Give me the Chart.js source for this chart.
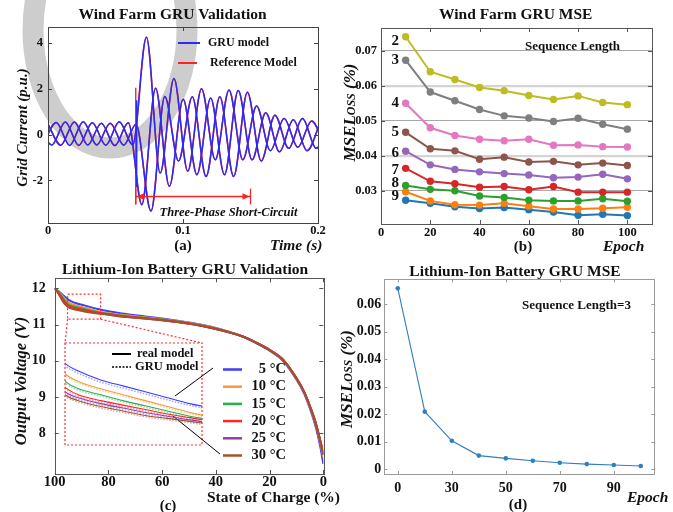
<!DOCTYPE html>
<html>
<head>
<meta charset="utf-8">
<script src="https://cdn.jsdelivr.net/npm/chart.js@4.4.0/dist/chart.umd.min.js"></script>
<style>
  html, body { margin: 0; padding: 0; background: #fff; }
  #wrap { position: relative; width: 673px; height: 512px; overflow: hidden; }
  canvas { position: absolute; left: 0; top: 0; width: 673px; height: 512px; }
</style>
</head>
<body>
<div id="wrap">
  <canvas id="ca" width="673" height="512"></canvas>
  <canvas id="cb" width="673" height="512"></canvas>
  <canvas id="cc" width="673" height="512"></canvas>
  <canvas id="cd" width="673" height="512"></canvas>
  <canvas id="ce" width="673" height="512"></canvas>
</div>
<script>
// ---- (a) wind farm grid current: peaks / troughs of each phase (s, p.u.)
const tA = [-0.0072, 0.0028, 0.0128, 0.0228, 0.0328, 0.0428, 0.0528, 0.0628, 0.0729, 0.0831, 0.0933, 0.1035, 0.1137, 0.1239, 0.1341, 0.1443, 0.1545, 0.1647, 0.1749, 0.1851, 0.1953, 0.2055];
const vA = [0.50, -0.45, 0.55, -0.47, 0.52, -0.46, 0.56, -0.45, 4.25, -1.68, 2.45, -1.60, 2.00, -1.10, 1.95, -1.10, 1.25, -0.70, 0.70, -0.55, 0.60, -0.60];
const tB = [-0.0005, 0.0095, 0.0195, 0.0295, 0.0395, 0.0495, 0.0595, 0.0695, 0.0797, 0.0899, 0.1001, 0.1103, 0.1205, 0.1307, 0.1409, 0.1511, 0.1613, 0.1715, 0.1817, 0.1919, 0.2021];
const vB = [0.52, -0.46, 0.55, -0.45, 0.50, -0.48, 0.52, -3.06, 2.03, -2.26, 1.55, -1.75, 1.60, -1.75, 1.93, -1.10, 0.95, -0.75, 0.65, -0.70, 0.60];
const tC = [-0.0039, 0.0061, 0.0161, 0.0261, 0.0361, 0.0461, 0.0561, 0.0652, 0.0763, 0.0865, 0.0967, 0.1069, 0.1171, 0.1273, 0.1375, 0.1477, 0.1579, 0.1681, 0.1783, 0.1885, 0.1987, 0.2089];
const vC = [-0.45, 0.53, -0.47, 0.56, -0.45, 0.50, -0.46, 0.45, -3.34, 1.66, -1.15, 1.65, -1.83, 1.65, -1.83, 1.85, -1.15, 0.85, -0.60, 0.70, -0.60, 0.60];
const gruSpikeT = [0.0657, 0.0657], gruSpikeV = [1.5, -2.3];
const refSpikeT = [0.0650, 0.0650], refSpikeV = [2.05, -3.05];
const faultSpan = [0.065, 0.150], faultArrowY = -2.7, faultBar = [-2.36, -3.05];
const ticksAx = [0, 0.1, 0.2], ticksAy = [-2, 0, 2, 4];

// ---- (b) wind farm MSE by sequence length
const epochB = [10, 20, 30, 40, 50, 60, 70, 80, 90, 100];
const mse2 = [0.0740, 0.0640, 0.0618, 0.0595, 0.0586, 0.0572, 0.0561, 0.0571, 0.0552, 0.0546];
const mse3 = [0.0673, 0.0582, 0.0557, 0.0532, 0.0514, 0.0508, 0.0498, 0.0507, 0.0490, 0.0476];
const mse4 = [0.0550, 0.0480, 0.0458, 0.0447, 0.0443, 0.0447, 0.0430, 0.0431, 0.0426, 0.0425];
const mse5 = [0.0467, 0.0420, 0.0414, 0.0390, 0.0396, 0.0382, 0.0384, 0.0374, 0.0379, 0.0372];
const mse6 = [0.0413, 0.0374, 0.0361, 0.0354, 0.0349, 0.0345, 0.0337, 0.0339, 0.0347, 0.0334];
const mse7 = [0.0364, 0.0327, 0.0320, 0.0310, 0.0312, 0.0303, 0.0312, 0.0296, 0.0296, 0.0296];
const mse8 = [0.0315, 0.0304, 0.0300, 0.0285, 0.0281, 0.0273, 0.0271, 0.0271, 0.0277, 0.0270];
const mse9 = [0.0297, 0.0271, 0.0260, 0.0259, 0.0264, 0.0256, 0.0248, 0.0248, 0.0250, 0.0253];
const mse10 = [0.0273, 0.0264, 0.0254, 0.0249, 0.0252, 0.0246, 0.0239, 0.0230, 0.0233, 0.0229];
const seqLabels = ['2', '3', '4', '5', '6', '7', '8', '9', ''];
const ticksBx = [0, 20, 40, 60, 80, 100], ticksBy = [0.03, 0.04, 0.05, 0.06, 0.07];

// ---- (c) battery voltage vs state of charge
const socC = [100, 99, 98, 97, 96, 95, 94, 92, 90, 88, 86, 84, 82, 80, 75, 70, 60, 50, 40, 30, 25, 20, 15, 10, 7, 5, 3, 2, 1, 0];
const volt5 = [12.00, 11.95, 11.89, 11.82, 11.76, 11.69, 11.65, 11.59, 11.55, 11.51, 11.47, 11.43, 11.40, 11.37, 11.31, 11.26, 11.17, 11.06, 10.91, 10.67, 10.49, 10.28, 10.00, 9.48, 9.07, 8.68, 8.22, 7.93, 7.58, 7.15];
const volt10 = [12.00, 11.94, 11.86, 11.78, 11.70, 11.62, 11.58, 11.53, 11.49, 11.45, 11.41, 11.37, 11.34, 11.32, 11.27, 11.23, 11.15, 11.05, 10.90, 10.67, 10.50, 10.29, 10.02, 9.50, 9.10, 8.72, 8.28, 8.00, 7.68, 7.33];
const volt15 = [12.00, 11.93, 11.84, 11.74, 11.65, 11.57, 11.53, 11.49, 11.45, 11.415, 11.38, 11.345, 11.32, 11.30, 11.25, 11.21, 11.14, 11.04, 10.89, 10.67, 10.50, 10.30, 10.03, 9.51, 9.11, 8.74, 8.31, 8.03, 7.72, 7.40];
const volt20 = [12.00, 11.92, 11.82, 11.70, 11.60, 11.53, 11.49, 11.45, 11.42, 11.39, 11.36, 11.335, 11.31, 11.29, 11.24, 11.20, 11.13, 11.03, 10.88, 10.67, 10.50, 10.30, 10.03, 9.52, 9.12, 8.75, 8.33, 8.06, 7.76, 7.46];
const volt25 = [12.00, 11.91, 11.80, 11.67, 11.57, 11.50, 11.47, 11.43, 11.40, 11.37, 11.345, 11.32, 11.30, 11.28, 11.23, 11.19, 11.12, 11.03, 10.88, 10.67, 10.50, 10.30, 10.03, 9.52, 9.12, 8.75, 8.32, 8.05, 7.74, 7.40];
const volt30 = [12.00, 11.90, 11.78, 11.65, 11.55, 11.48, 11.45, 11.41, 11.38, 11.35, 11.33, 11.31, 11.29, 11.27, 11.22, 11.19, 11.12, 11.02, 10.88, 10.67, 10.50, 10.30, 10.03, 9.52, 9.12, 8.75, 8.33, 8.05, 7.75, 7.42];
// GRU model, only shown in the zoomed inset
const socG = [96, 95, 94, 92, 90, 88, 86, 84, 82];
const gru5 = [11.75, 11.675, 11.635, 11.575, 11.535, 11.495, 11.455, 11.418, 11.388];
const gru10 = [11.69, 11.61, 11.57, 11.52, 11.48, 11.44, 11.40, 11.36, 11.33];
const gru15 = [11.64, 11.56, 11.52, 11.48, 11.44, 11.405, 11.37, 11.335, 11.31];
const gru20 = [11.59, 11.52, 11.48, 11.44, 11.41, 11.38, 11.35, 11.325, 11.30];
const gru25 = [11.56, 11.49, 11.46, 11.42, 11.39, 11.36, 11.335, 11.31, 11.29];
const gru30 = [11.54, 11.47, 11.44, 11.40, 11.37, 11.34, 11.32, 11.30, 11.28];
const tempLabels = ['5 °C', '10 °C', '15 °C', '20 °C', '25 °C', '30 °C'];
const zoomSoc = [82.9, 95.2], zoomVolt = [11.15, 11.84];
const ticksCx = [0, 20, 40, 60, 80, 100], ticksCy = [8, 9, 10, 11, 12];

// ---- (d) battery MSE, sequence length 3
const epochD = ['0', '20', '30', '40', '50', '60', '70', '80', '90', '100'];
const mseD = [0.0658, 0.0209, 0.0103, 0.0049, 0.0039, 0.0030, 0.0023, 0.0018, 0.0015, 0.0011];
const ticksDy = [0, 0.01, 0.02, 0.03, 0.04, 0.05, 0.06];

const W = 673, H = 512;
const SERIF = '"Liberation Serif", "Times New Roman", serif';
const BLUE = '#2b2bf5', RED = '#ff2020';
const tab = ['#bcbd22', '#7f7f7f', '#e377c2', '#8c564b', '#9467bd', '#d62728', '#2ca02c', '#ff7f0e', '#1f77b4'];
const tempColors = ['#3c3cff', '#f39a3a', '#27b04a', '#ff2626', '#8a3fb0', '#a4502c'];

Chart.defaults.font.family = SERIF;

const pts = (xs, ys) => xs.map((x, i) => ({ x, y: ys[i] }));
const tf = size => ({ family: SERIF, weight: 'bold', size });
const fixTicks = arr => s => { s.ticks = arr.map(v => ({ value: v })); };
const fitY = s => { s.width = 40; };
const fitX = s => { s.height = 30; };
// padding so the plot area lands exactly on [l,r] x [t,b]
const area = (l, t, r, b) => ({ padding: { left: l - 40, top: t, right: W - r, bottom: H - b - 30 } });

function text(ctx, s, x, y, font, align, rot) {
  ctx.save();
  ctx.font = font;
  ctx.fillStyle = '#111';
  ctx.textAlign = align || 'left';
  ctx.textBaseline = 'middle';
  ctx.translate(x, y);
  if (rot) ctx.rotate(rot);
  ctx.fillText(s, 0, 0);
  ctx.restore();
}

function mseLabel(ctx, cx, cy) {
  const parts = [['MSE', `italic bold 17px ${SERIF}`], ['Loss', `italic small-caps bold 17px ${SERIF}`], [' (%)', `italic bold 17px ${SERIF}`]];
  ctx.save();
  ctx.translate(cx, cy);
  ctx.rotate(-Math.PI / 2);
  ctx.fillStyle = '#111';
  ctx.textBaseline = 'middle';
  let total = 0;
  parts.forEach(p => { ctx.font = p[1]; total += ctx.measureText(p[0]).width; });
  let x = -total / 2;
  parts.forEach(p => { ctx.font = p[1]; ctx.fillText(p[0], x, 0); x += ctx.measureText(p[0]).width; });
  ctx.restore();
}

function line(ctx, x0, y0, x1, y1, color, width, dash) {
  ctx.save();
  ctx.strokeStyle = color;
  ctx.lineWidth = width;
  ctx.setLineDash(dash || []);
  ctx.beginPath();
  ctx.moveTo(x0, y0);
  ctx.lineTo(x1, y1);
  ctx.stroke();
  ctx.restore();
}

// box frame with inward ticks on all four sides
const frame = {
  id: 'frame',
  afterDatasetsDraw(chart, args, o) {
    const { ctx, chartArea: a } = chart;
    const sx = chart.scales.x, sy = chart.scales.y;
    ctx.save();
    ctx.strokeStyle = o.color;
    ctx.lineWidth = 1;
    ctx.beginPath();
    sx.ticks.forEach((t, i) => {
      if (t.label === '') return;
      const p = Math.round(sx.getPixelForTick(i)) + 0.5;
      ctx.moveTo(p, a.bottom); ctx.lineTo(p, a.bottom - o.len);
      ctx.moveTo(p, a.top); ctx.lineTo(p, a.top + o.len);
    });
    sy.ticks.forEach((t, i) => {
      const p = Math.round(sy.getPixelForTick(i)) + 0.5;
      ctx.moveTo(a.left, p); ctx.lineTo(a.left + o.len, p);
      ctx.moveTo(a.right, p); ctx.lineTo(a.right - o.len, p);
    });
    ctx.stroke();
    ctx.strokeRect(Math.round(a.left) + 0.5, Math.round(a.top) + 0.5, Math.round(a.right - a.left), Math.round(a.bottom - a.top));
    ctx.restore();
  }
};

const common = {
  responsive: false,
  animation: false,
  events: [],
  elements: { point: { radius: 0 } },
};

// ================= (a)
const ring = {
  id: 'ring',
  beforeDraw(chart) {
    const c = chart.ctx;
    c.save();
    c.strokeStyle = '#cdcdcd';
    c.lineWidth = 21;
    c.beginPath();
    c.ellipse(110, 30, 77, 118, 0, 0, Math.PI * 2);
    c.stroke();
    c.restore();
  }
};

const textA = {
  id: 'textA',
  afterDraw(chart) {
    const c = chart.ctx, sx = chart.scales.x, sy = chart.scales.y;
    const x0 = sx.getPixelForValue(faultSpan[0]), x1 = sx.getPixelForValue(faultSpan[1]);
    const yy = sy.getPixelForValue(faultArrowY);
    const b0 = sy.getPixelForValue(faultBar[0]), b1 = sy.getPixelForValue(faultBar[1]);
    line(c, x0, yy, x1, yy, RED, 1.4);
    line(c, x0, b0, x0, b1, RED, 1.2);
    line(c, x1, b0, x1, b1, RED, 1.2);
    c.save();
    c.fillStyle = RED;
    c.beginPath();
    c.moveTo(x0 + 1, yy); c.lineTo(x0 + 8, yy - 3.2); c.lineTo(x0 + 8, yy + 3.2); c.closePath();
    c.moveTo(x1 - 1, yy); c.lineTo(x1 - 8, yy - 3.2); c.lineTo(x1 - 8, yy + 3.2); c.closePath();
    c.fill();
    c.restore();
    text(c, 'Three-Phase Short-Circuit', 228.5, 213, `italic bold 12.5px ${SERIF}`, 'center');
    text(c, 'Wind Farm GRU Validation', 172.5, 15, `bold 15.5px ${SERIF}`, 'center');
    text(c, 'Grid Current (p.u.)', 23.5, 127.5, `italic bold 15px ${SERIF}`, 'center', -Math.PI / 2);
    text(c, 'Time (s)', 270, 246, `italic bold 15.5px ${SERIF}`);
    text(c, '(a)', 183, 246, `bold 15px ${SERIF}`, 'center');
    line(c, 178, 43, 200, 43, BLUE, 2);
    text(c, 'GRU model', 208, 43, `bold 12px ${SERIF}`);
    line(c, 178, 63, 197, 63, RED, 2);
    text(c, 'Reference Model', 210, 63, `bold 12px ${SERIF}`);
  }
};

// reference (red) sits underneath the GRU (blue) curve: higher order = drawn first
const wave = (xs, ys, color, ord) => ({ data: pts(xs, ys), borderColor: color, borderWidth: 1.5, cubicInterpolationMode: 'monotone', order: ord });
const spike = (xs, ys, color, ord) => ({ data: pts(xs, ys), borderColor: color, borderWidth: 1.4, tension: 0, order: ord });

new Chart(document.getElementById('ca'), {
  type: 'line',
  data: {
    datasets: [
      wave(tA, vA, BLUE, 0), wave(tB, vB, BLUE, 0), wave(tC, vC, BLUE, 0),
      spike(gruSpikeT, gruSpikeV, BLUE, 0),
      wave(tA, vA, RED, 1), wave(tB, vB, RED, 1), wave(tC, vC, RED, 1),
      spike(refSpikeT, refSpikeV, RED, 1)
    ]
  },
  options: {
    ...common,
    layout: area(48, 27, 318, 223),
    plugins: { legend: { display: false }, tooltip: { enabled: false }, frame: { color: '#444', len: 4 } },
    scales: {
      x: {
        type: 'linear', min: 0, max: 0.2, afterFit: fitX, afterBuildTicks: fixTicks(ticksAx),
        grid: { display: false, drawTicks: false }, border: { display: false },
        ticks: { font: tf(12.5), color: '#111', padding: 0, maxRotation: 0 }
      },
      y: {
        min: -3.86, max: 4.7, afterFit: fitY, afterBuildTicks: fixTicks(ticksAy),
        grid: { display: false, drawTicks: false }, border: { display: false },
        ticks: { font: tf(12.5), color: '#111', padding: 5 }
      }
    }
  },
  plugins: [ring, frame, textA]
});

// ================= (b)
const seqSeries = [mse2, mse3, mse4, mse5, mse6, mse7, mse8, mse9, mse10];
const seqDy = [4.5, 0, 0, 0, 1.5, 1.5, -2, 4.5, 0];

const textB = {
  id: 'textB',
  afterDraw(chart) {
    const c = chart.ctx;
    seqLabels.forEach((s, i) => {
      if (!s) return;
      const p = chart.getDatasetMeta(i).data[0];
      text(c, s, p.x - 10.5, p.y + seqDy[i], `bold 15px ${SERIF}`, 'center');
    });
    text(c, 'Wind Farm GRU MSE', 515.7, 15, `bold 15.5px ${SERIF}`, 'center');
    mseLabel(c, 351, 112.5);
    text(c, 'Epoch', 603, 247, `italic bold 15.5px ${SERIF}`);
    text(c, '(b)', 523, 247, `bold 15px ${SERIF}`, 'center');
    text(c, 'Sequence Length', 525, 47, `bold 13px ${SERIF}`);
  }
};

const isLight = v => Math.abs(v - 0.06) < 1e-6 || Math.abs(v - 0.04) < 1e-6;

new Chart(document.getElementById('cb'), {
  type: 'line',
  data: {
    datasets: seqSeries.map((s, i) => ({
      data: pts(epochB, s), borderColor: tab[i], backgroundColor: tab[i],
      borderWidth: 2, pointRadius: 3.7, pointBorderWidth: 0, pointBackgroundColor: tab[i], tension: 0
    }))
  },
  options: {
    ...common,
    layout: area(381, 28, 652, 224),
    plugins: { legend: { display: false }, tooltip: { enabled: false }, frame: { color: '#555', len: 4 } },
    scales: {
      x: {
        type: 'linear', min: 0, max: 110, afterFit: fitX, afterBuildTicks: fixTicks(ticksBx),
        grid: { display: false, drawTicks: false }, border: { display: false },
        ticks: { font: tf(12.5), color: '#111', padding: 1.5, maxRotation: 0 }
      },
      y: {
        min: 0.0205, max: 0.0765, afterFit: fitY, afterBuildTicks: fixTicks(ticksBy),
        grid: {
          drawTicks: false,
          color: ctx => isLight(ctx.tick.value) ? '#d4d4d4' : '#a8a8a8',
          lineWidth: ctx => isLight(ctx.tick.value) ? 2.2 : 1
        },
        border: { display: false },
        ticks: { font: tf(12.5), color: '#111', padding: 4 }
      }
    }
  },
  plugins: [frame, textB]
});

// ================= (c)
const voltSeries = [volt5, volt10, volt15, volt20, volt25, volt30];
const gruSeries = [gru5, gru10, gru15, gru20, gru25, gru30];
const drawOrder = [5, 4, 3, 1, 2, 0]; // red and brown on top, blue at the bottom
const inset = { l: 65, t: 343, r: 202, b: 445 };

const textC = {
  id: 'textC',
  afterDraw(chart) {
    const c = chart.ctx, sx = chart.scales.x, sy = chart.scales.y;
    const zl = sx.getPixelForValue(zoomSoc[1]), zr = sx.getPixelForValue(zoomSoc[0]);
    const zt = sy.getPixelForValue(zoomVolt[1]), zb = sy.getPixelForValue(zoomVolt[0]);
    c.save();
    c.strokeStyle = '#ff3030';
    c.lineWidth = 1.2;
    c.setLineDash([2, 2]);
    c.strokeRect(zl, zt, zr - zl, zb - zt);
    c.strokeRect(inset.l, inset.t, inset.r - inset.l, inset.b - inset.t);
    c.beginPath();
    c.moveTo(zl, zb); c.lineTo(inset.l, inset.t);
    c.moveTo(zr, zb); c.lineTo(inset.r, inset.t);
    c.stroke();
    c.restore();

    line(c, 112, 354, 131, 354, '#000', 2);
    line(c, 112, 367, 131, 367, '#000', 1.6, [2, 1.5]);
    text(c, 'real model', 137, 354, `bold 12.5px ${SERIF}`);
    text(c, 'GRU model', 135, 367, `bold 12.5px ${SERIF}`);

    tempLabels.forEach((s, i) => {
      const y = 369.5 + i * 17.2;
      line(c, 223, y, 242, y, tempColors[i], 2.5);
      text(c, s, 286, y, `bold 14.5px ${SERIF}`, 'right');
    });
    line(c, 213, 368, 175, 396, '#000', 1);
    line(c, 220, 454, 173, 416, '#000', 1);

    text(c, 'Lithium-Ion Battery GRU Validation', 185, 270, `bold 15.5px ${SERIF}`, 'center');
    text(c, 'Output Voltage (V)', 21.5, 381, `italic bold 16.5px ${SERIF}`, 'center', -Math.PI / 2);
    text(c, 'State of Charge (%)', 207, 498, `bold 15.5px ${SERIF}`);
    text(c, '(c)', 168, 506, `bold 15px ${SERIF}`, 'center');
  }
};

new Chart(document.getElementById('cc'), {
  type: 'line',
  data: {
    datasets: voltSeries.map((v, i) => ({
      data: pts(socC, v), borderColor: tempColors[i], borderWidth: 2,
      cubicInterpolationMode: 'monotone', order: drawOrder[i]
    }))
  },
  options: {
    ...common,
    layout: area(54.7, 278.3, 323.3, 474),
    plugins: { legend: { display: false }, tooltip: { enabled: false }, frame: { color: '#555', len: 4 } },
    scales: {
      x: {
        type: 'linear', min: 0, max: 100, reverse: true, afterFit: fitX, afterBuildTicks: fixTicks(ticksCx),
        grid: { display: false, drawTicks: false }, border: { display: false },
        ticks: { font: tf(14.5), color: '#111', padding: 0, maxRotation: 0 }
      },
      y: {
        min: 6.87, max: 12.28, afterFit: fitY, afterBuildTicks: fixTicks(ticksCy),
        grid: { display: false, drawTicks: false }, border: { display: false },
        ticks: { font: tf(14), color: '#111', padding: 9 }
      }
    }
  },
  plugins: [frame, textC]
});

// zoomed inset of (c)
const fade = (hex, a) => {
  const n = parseInt(hex.slice(1), 16);
  return `rgba(${n >> 16},${(n >> 8) & 255},${n & 255},${a})`;
};
new Chart(document.getElementById('ce'), {
  type: 'line',
  data: {
    datasets: [
      ...voltSeries.map((v, i) => ({
        data: pts(socC, v), borderColor: tempColors[i], borderWidth: 1.1, cubicInterpolationMode: 'monotone'
      })),
      ...gruSeries.map((v, i) => ({
        data: pts(socG, v), borderColor: fade(tempColors[i], 0.5), borderWidth: 1.3,
        borderDash: [1.5, 1.5], cubicInterpolationMode: 'monotone'
      }))
    ]
  },
  options: {
    ...common,
    layout: { padding: { left: inset.l, top: inset.t, right: W - inset.r, bottom: H - inset.b } },
    plugins: { legend: { display: false }, tooltip: { enabled: false } },
    scales: {
      x: { type: 'linear', display: false, min: zoomSoc[0], max: zoomSoc[1], reverse: true },
      y: { display: false, min: zoomVolt[0], max: zoomVolt[1] }
    }
  }
});

// ================= (d)
const textD = {
  id: 'textD',
  afterDraw(chart) {
    const c = chart.ctx;
    text(c, 'Lithium-Ion Battery GRU MSE', 515, 271.5, `bold 15.5px ${SERIF}`, 'center');
    mseLabel(c, 347.5, 379);
    text(c, 'Epoch', 627, 498, `italic bold 15.5px ${SERIF}`);
    text(c, '(d)', 518, 505, `bold 15px ${SERIF}`, 'center');
    text(c, 'Sequence Length=3', 522, 306, `bold 13px ${SERIF}`);
  }
};

new Chart(document.getElementById('cd'), {
  type: 'line',
  data: {
    labels: epochD,
    datasets: [{
      data: mseD, borderColor: '#2f7fc1', borderWidth: 1.1, tension: 0,
      pointRadius: 2.3, pointBorderWidth: 0, pointBackgroundColor: '#2f7fc1'
    }]
  },
  options: {
    ...common,
    layout: area(384.3, 279.3, 654.3, 474),
    plugins: { legend: { display: false }, tooltip: { enabled: false }, frame: { color: '#9a9a9a', len: 3 } },
    scales: {
      x: {
        type: 'category', offset: true, afterFit: fitX,
        grid: { display: false, drawTicks: false }, border: { display: false },
        ticks: {
          font: tf(14), color: '#111', padding: 6, maxRotation: 0, autoSkip: false,
          callback: (v, i) => (i % 2 === 0 ? epochD[i] : '')
        }
      },
      y: {
        min: -0.0018, max: 0.0691, afterFit: fitY, afterBuildTicks: fixTicks(ticksDy),
        grid: { display: false, drawTicks: false }, border: { display: false },
        ticks: { font: tf(14), color: '#111', padding: 3 }
      }
    }
  },
  plugins: [frame, textD]
});
</script>
</body>
</html>
